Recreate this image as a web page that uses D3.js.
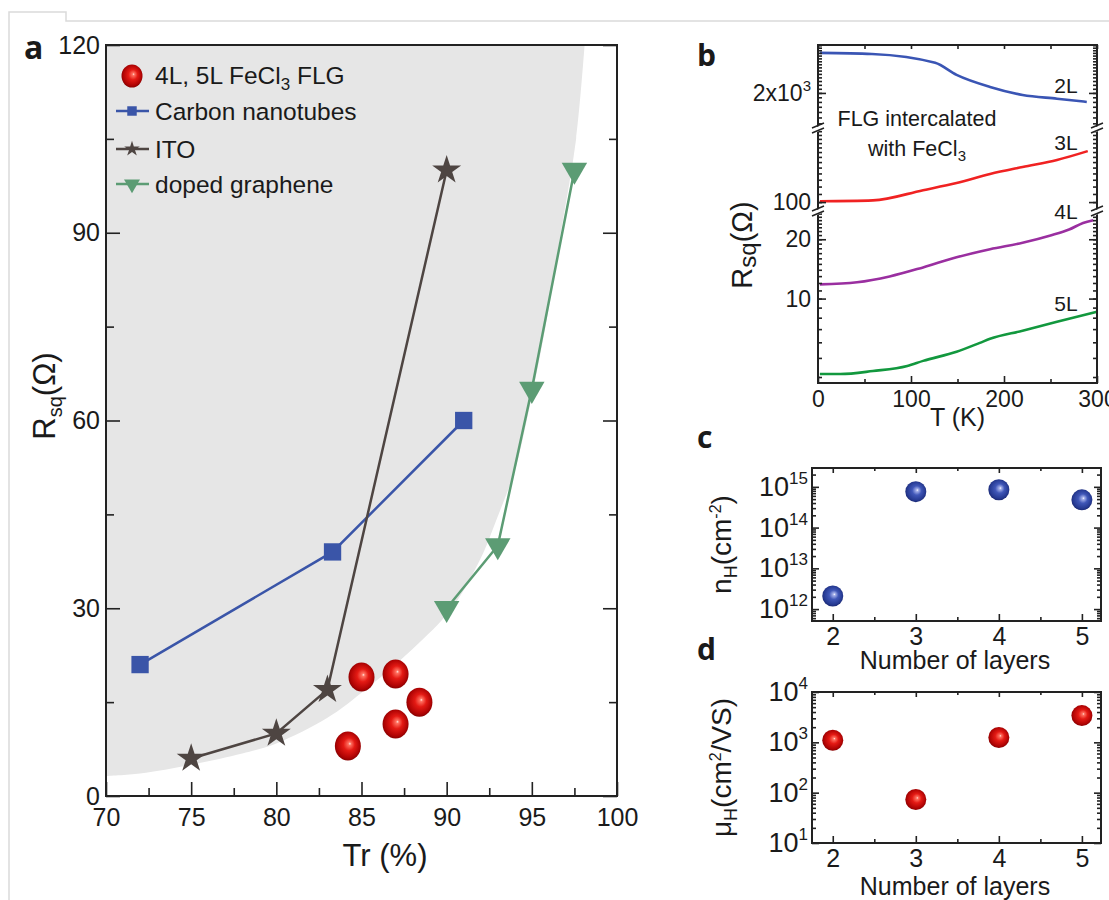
<!DOCTYPE html>
<html>
<head>
<meta charset="utf-8">
<script src="https://cdn.jsdelivr.net/npm/d3@7"></script>
<style>
body { margin: 0; background: #fff; }
</style>
</head>
<body>
<div id="figure"></div>
<script>
// ---------- panel a : sheet resistance vs transmittance ----------
var a_cnt_tr = [72, 83.3, 91];
var a_cnt_rsq = [21, 39, 60];
var a_ito_tr = [75, 80, 83, 90];
var a_ito_rsq = [6, 10, 17, 100];
var a_gr_tr = [90, 93, 95, 97.5];
var a_gr_rsq = [30, 40, 65, 100];
var a_flg_tr = [84.2, 85, 87, 87, 88.4];
var a_flg_rsq = [8, 19, 19.5, 11.5, 15];
// edge of the grey region
var a_shade_tr = [70, 72, 75, 78, 80, 83, 85, 88, 90.3, 92, 92.9, 94, 94.7, 95.8, 96.7, 97.6, 98.1];
var a_shade_rsq = [3.2, 3.6, 5, 6.8, 8.4, 12.5, 16.5, 23.5, 30, 38, 44, 52, 60, 75, 90, 105, 120];
var a_x_ticks = [70, 75, 80, 85, 90, 95, 100];
var a_x_minor = [72.5, 77.5, 82.5, 87.5, 92.5, 97.5];
var a_y_ticks = [0, 30, 60, 90, 120];
var a_y_minor = [15, 45, 75, 105];

// ---------- panel b : Rsq vs T ----------
var b_T_2L = [2, 58, 126, 149, 185, 220, 257, 289];
var b_R_2L = [3200, 3160, 2846, 2472, 2146, 1953, 1869, 1800];
var b_T_3L = [2, 59, 113, 149, 185, 220, 257, 290];
var b_R_3L = [101, 102, 115, 125, 139, 151, 164, 182];
var b_T_4L = [2, 42, 77, 113, 149, 185, 220, 250, 270, 285, 296];
var b_R_4L = [11.8, 12.1, 12.95, 14.4, 16.2, 17.8, 19.2, 20.9, 22.4, 24.2, 25.0];
var b_T_5L = [2, 24, 59, 96, 113, 149, 174, 185, 220, 257, 300];
var b_R_5L = [4.14, 4.14, 4.29, 4.55, 4.83, 5.37, 5.96, 6.25, 6.87, 7.63, 8.58];
var b_x_ticks = [0, 100, 200, 300];
var b_x_minor = [50, 150, 250];
// broken y axis: one log segment per group of curves
var b_seg_domains = [[1310, 3510], [89, 236], [3.73, 27.5]];
var b_seg_major = [[2000], [100], [10, 20]];
var b_seg_minor_step = [100, 10, 1];

// ---------- panels c, d : Hall data vs number of layers ----------
var cd_layers = [2, 3, 4, 5];
var c_nH = [2.1e12, 7.6e14, 8.5e14, 4.8e14];
var d_mu = [1100, 73, 1250, 3400];
var c_decades = [12, 13, 14, 15];
var d_decades = [1, 2, 3, 4];

var SANS = "'Liberation Sans', Arial, sans-serif";
var INK = "#1a1a1a";

var svg = d3.select("#figure").append("svg")
    .attr("width", 1109)
    .attr("height", 900)
    .attr("font-family", SANS)
    .attr("fill", INK);

var defs = svg.append("defs");

function add_ball(id, stops) {
    var g = defs.append("radialGradient").attr("id", id)
        .attr("cx", "50%").attr("cy", "48%").attr("r", "55%")
        .attr("fx", "58%").attr("fy", "42%");
    stops.forEach(function(s) {
        g.append("stop").attr("offset", s[0]).attr("stop-color", s[1]);
    });
}
add_ball("ball_red", [["0%", "#ffe4dc"], ["10%", "#ff7060"], ["40%", "#e41a14"], ["80%", "#b00404"], ["100%", "#7c0000"]]);
add_ball("ball_blue", [["0%", "#ffffff"], ["10%", "#a7b2ea"], ["40%", "#4057b8"], ["80%", "#263a92"], ["100%", "#18246a"]]);

function zip(a, b) {
    return a.map(function(v, i) { return [v, b[i]]; });
}

function ticks(g, axis, tx, ty, size) {
    var sel = g.append("g")
        .attr("transform", "translate(" + tx + "," + ty + ")")
        .call(axis);
    sel.select(".domain").remove();
    sel.attr("font-size", size || 10).attr("font-family", null).attr("fill", null);
    sel.selectAll(".tick line").attr("stroke", "#222").attr("stroke-width", 1.6);
    sel.selectAll(".tick text").attr("fill", INK);
    return sel;
}

// page border left by the screenshot
svg.append("path")
    .attr("d", "M9,900V12H66V21H1109")
    .attr("fill", "none")
    .attr("stroke", "#dadada")
    .attr("stroke-width", 1.5);

// ================= panel a =================
var ax = d3.scaleLinear().domain([70, 100]).range([106, 617]);
var ay = d3.scaleLinear().domain([0, 120]).range([796, 45]);
var pa = svg.append("g");

defs.append("clipPath").attr("id", "clip_a").append("rect")
    .attr("x", ax(70)).attr("y", ay(120))
    .attr("width", ax(100) - ax(70)).attr("height", ay(0) - ay(120));

var shade = d3.line().curve(d3.curveCatmullRom)(zip(a_shade_tr, a_shade_rsq).map(function(d) {
    return [ax(d[0]), ay(d[1])];
}));
pa.append("path")
    .attr("d", "M" + ax(70) + "," + ay(120) + "L" + shade.slice(1) + "Z")
    .attr("fill", "#e6e6e6")
    .attr("clip-path", "url(#clip_a)");

var a_line = d3.line()
    .x(function(d) { return ax(d[0]); })
    .y(function(d) { return ay(d[1]); });

var a_series = [
    {tr: a_cnt_tr, rsq: a_cnt_rsq, color: "#3a55a8", symbol: d3.symbolSquare, size: 300, rot: 0},
    {tr: a_ito_tr, rsq: a_ito_rsq, color: "#4e4542", symbol: d3.symbolStar, size: 260, rot: 0},
    {tr: a_gr_tr, rsq: a_gr_rsq, color: "#5c9c74", symbol: d3.symbolTriangle, size: 280, rot: 180}
];

a_series.forEach(function(s) {
    pa.append("path")
        .attr("d", a_line(zip(s.tr, s.rsq)))
        .attr("fill", "none")
        .attr("stroke", s.color)
        .attr("stroke-width", 2.5);
    pa.selectAll(null)
        .data(zip(s.tr, s.rsq))
        .enter()
        .append("path")
        .attr("transform", function(d) {
            return "translate(" + ax(d[0]) + "," + ay(d[1]) + ") rotate(" + s.rot + ")";
        })
        .attr("d", d3.symbol(s.symbol, s.size))
        .attr("fill", s.color);
});

pa.selectAll(null)
    .data(zip(a_flg_tr, a_flg_rsq))
    .enter()
    .append("ellipse")
    .attr("cx", function(d) { return ax(d[0]); })
    .attr("cy", function(d) { return ay(d[1]); })
    .attr("rx", 13)
    .attr("ry", 14.5)
    .attr("fill", "url(#ball_red)");

// axes of a, ticks point inwards
ticks(pa, d3.axisLeft(ay).tickValues(a_y_ticks).tickSize(-14).tickPadding(6), ax(70), 0, 25);
ticks(pa, d3.axisLeft(ay).tickValues(a_y_minor).tickSize(-8).tickFormat(""), ax(70), 0);
ticks(pa, d3.axisRight(ay).tickValues(a_y_ticks).tickSize(-14).tickFormat(""), ax(100), 0);
ticks(pa, d3.axisRight(ay).tickValues(a_y_minor).tickSize(-8).tickFormat(""), ax(100), 0);
ticks(pa, d3.axisBottom(ax).tickValues(a_x_ticks).tickSize(-14).tickPadding(12), 0, ay(0), 25);
ticks(pa, d3.axisBottom(ax).tickValues(a_x_minor).tickSize(-8).tickFormat(""), 0, ay(0));

pa.append("rect")
    .attr("x", ax(70)).attr("y", ay(120))
    .attr("width", ax(100) - ax(70)).attr("height", ay(0) - ay(120))
    .attr("fill", "none").attr("stroke", "#222").attr("stroke-width", 2);

pa.append("text")
    .attr("x", 385).attr("y", 866)
    .attr("text-anchor", "middle")
    .attr("font-size", 31)
    .text("Tr (%)");

var a_ylab = pa.append("text")
    .attr("transform", "translate(55,396) rotate(-90)")
    .attr("text-anchor", "middle")
    .attr("font-size", 31);
a_ylab.append("tspan").text("R");
a_ylab.append("tspan").attr("font-size", 20).attr("dy", 7).text("sq");
a_ylab.append("tspan").attr("dy", -7).text("(Ω)");

// legend of a
var leg = pa.append("g").attr("font-size", 24.5);
leg.append("ellipse").attr("cx", 132).attr("cy", 76).attr("rx", 10.5).attr("ry", 11.5).attr("fill", "url(#ball_red)");
var leg_t = leg.append("text").attr("x", 155).attr("y", 84);
leg_t.append("tspan").text("4L, 5L FeCl");
leg_t.append("tspan").attr("font-size", 17).attr("dy", 6).text("3");
leg_t.append("tspan").attr("dy", -6).text(" FLG");

var leg_rows = [
    {s: a_series[0], y: 111, name: "Carbon nanotubes", size: 90},
    {s: a_series[1], y: 149, name: "ITO", size: 75},
    {s: a_series[2], y: 184, name: "doped graphene", size: 110}
];
leg_rows.forEach(function(r) {
    leg.append("line")
        .attr("x1", 116).attr("x2", 149).attr("y1", r.y).attr("y2", r.y)
        .attr("stroke", r.s.color).attr("stroke-width", 2.5);
    leg.append("path")
        .attr("transform", "translate(132," + r.y + ") rotate(" + r.s.rot + ")")
        .attr("d", d3.symbol(r.s.symbol, r.size)())
        .attr("fill", r.s.color);
    leg.append("text").attr("x", 155).attr("y", r.y + 9).text(r.name);
});

svg.append("text")
    .attr("x", 24).attr("y", 59)
    .attr("font-family", "'Open Sans', sans-serif")
    .attr("font-weight", "bold")
    .attr("font-size", 32)
    .text("a");

// ================= panel b =================
var bx = d3.scaleLinear().domain([0, 300]).range([818, 1097]);
var b_top = 45, b_bottom = 383, b_breaks = [129, 212];
var b_seg_ranges = [[b_breaks[0], b_top], [b_breaks[1], b_breaks[0]], [b_bottom, b_breaks[1]]];
var b_seg = b_seg_domains.map(function(d, i) {
    return d3.scaleLog().domain(d).range(b_seg_ranges[i]);
});
var pb = svg.append("g");

var b_curves = [
    {T: b_T_2L, R: b_R_2L, seg: 0, color: "#3a55b4", name: "2L", lx: 1066, ly: 93},
    {T: b_T_3L, R: b_R_3L, seg: 1, color: "#f02222", name: "3L", lx: 1066, ly: 150},
    {T: b_T_4L, R: b_R_4L, seg: 2, color: "#9a2fa0", name: "4L", lx: 1066, ly: 219},
    {T: b_T_5L, R: b_R_5L, seg: 2, color: "#12983e", name: "5L", lx: 1066, ly: 311}
];

b_curves.forEach(function(c) {
    var y = b_seg[c.seg];
    pb.append("path")
        .attr("d", d3.line().curve(d3.curveMonotoneX)
            .x(function(d) { return bx(d[0]); })
            .y(function(d) { return y(d[1]); })(zip(c.T, c.R)))
        .attr("fill", "none")
        .attr("stroke", c.color)
        .attr("stroke-width", 2.6);
    pb.append("text")
        .attr("x", c.lx).attr("y", c.ly)
        .attr("text-anchor", "middle")
        .attr("font-size", 21)
        .text(c.name);
});

ticks(pb, d3.axisBottom(bx).tickValues(b_x_ticks).tickSize(-7).tickPadding(8), 0, b_bottom, 23);
ticks(pb, d3.axisBottom(bx).tickValues(b_x_minor).tickSize(-4).tickFormat(""), 0, b_bottom);
ticks(pb, d3.axisTop(bx).tickValues(b_x_ticks.concat(b_x_minor)).tickSize(-4).tickFormat(""), 0, b_top);

b_seg.forEach(function(y, i) {
    var dom = b_seg_domains[i];
    var step = b_seg_minor_step[i];
    var minor = d3.range(Math.ceil(dom[0] / step) * step, dom[1], step);
    ticks(pb, d3.axisLeft(y).tickValues(b_seg_major[i]).tickSize(-8).tickFormat(""), bx(0), 0);
    ticks(pb, d3.axisLeft(y).tickValues(minor).tickSize(-4).tickFormat(""), bx(0), 0);
    ticks(pb, d3.axisRight(y).tickValues(b_seg_major[i]).tickSize(-8).tickFormat(""), bx(300), 0);
    ticks(pb, d3.axisRight(y).tickValues(minor).tickSize(-4).tickFormat(""), bx(300), 0);
    b_seg_major[i].forEach(function(v) {
        var t = pb.append("text")
            .attr("x", bx(0) - 7).attr("y", y(v) + 8)
            .attr("text-anchor", "end")
            .attr("font-size", 23);
        if (v >= 1000) {
            t.append("tspan").text("2x10");
            t.append("tspan").attr("font-size", 15).attr("dy", -10).text("3");
        } else {
            t.text(v);
        }
    });
});

pb.append("rect")
    .attr("x", bx(0)).attr("y", b_top)
    .attr("width", bx(300) - bx(0)).attr("height", b_bottom - b_top)
    .attr("fill", "none").attr("stroke", "#222").attr("stroke-width", 2);

// axis break marks
b_breaks.forEach(function(yb) {
    [bx(0), bx(300)].forEach(function(xb) {
        pb.append("path")
            .attr("d", "M" + (xb - 6) + "," + (yb + 0) + "l12,-5v5l-12,5z")
            .attr("fill", "#fff");
        pb.append("path")
            .attr("d", "M" + (xb - 6) + "," + (yb - 1) + "l12,-5M" + (xb - 6) + "," + (yb + 4) + "l12,-5")
            .attr("stroke", "#222").attr("stroke-width", 1.5);
    });
});

pb.append("text").attr("x", 917).attr("y", 126).attr("text-anchor", "middle")
    .attr("font-size", 21.5).text("FLG intercalated");
var b_note = pb.append("text").attr("x", 917).attr("y", 156).attr("text-anchor", "middle")
    .attr("font-size", 21.5);
b_note.append("tspan").text("with FeCl");
b_note.append("tspan").attr("font-size", 15).attr("dy", 5).text("3");

pb.append("text")
    .attr("x", bx(150)).attr("y", 426)
    .attr("text-anchor", "middle")
    .attr("font-size", 25)
    .text("T (K)");

var b_ylab = pb.append("text")
    .attr("transform", "translate(752,245) rotate(-90)")
    .attr("text-anchor", "middle")
    .attr("font-size", 29);
b_ylab.append("tspan").text("R");
b_ylab.append("tspan").attr("font-size", 24).attr("dy", 4).text("sq");
b_ylab.append("tspan").attr("dy", -4).text("(Ω)");

svg.append("text")
    .attr("x", 697).attr("y", 66)
    .attr("font-family", "'Open Sans', sans-serif")
    .attr("font-weight", "bold")
    .attr("font-size", 30)
    .text("b");

// ================= panels c and d =================
var cx = d3.scaleLinear().domain([1.75, 5.23]).range([812, 1101]);

function hall_panel(y, values, decades, ball, top, bottom, lab_y, ylab_parts) {
    var g = svg.append("g");
    var lo = y.domain()[0], hi = y.domain()[1];
    var minor = [];
    d3.range(Math.floor(Math.log10(lo)), Math.ceil(Math.log10(hi)) + 1).forEach(function(e) {
        for (var k = 2; k < 10; k++) {
            var v = k * Math.pow(10, e);
            if (v > lo && v < hi) minor.push(v);
        }
    });
    var major = decades.map(function(e) { return Math.pow(10, e); });

    ticks(g, d3.axisLeft(y).tickValues(major).tickSize(-7).tickFormat(""), cx.range()[0], 0);
    ticks(g, d3.axisLeft(y).tickValues(minor).tickSize(-4).tickFormat(""), cx.range()[0], 0);
    ticks(g, d3.axisRight(y).tickValues(major).tickSize(-7).tickFormat(""), cx.range()[1], 0);
    ticks(g, d3.axisRight(y).tickValues(minor).tickSize(-4).tickFormat(""), cx.range()[1], 0);
    ticks(g, d3.axisBottom(cx).tickValues(cd_layers).tickSize(-7).tickPadding(6)
        .tickFormat(d3.format("d")), 0, bottom, 25);
    ticks(g, d3.axisBottom(cx).tickValues([2.5, 3.5, 4.5]).tickSize(-4).tickFormat(""), 0, bottom);
    ticks(g, d3.axisTop(cx).tickValues(cd_layers).tickSize(-5).tickFormat(""), 0, top);
    ticks(g, d3.axisTop(cx).tickValues([2.5, 3.5, 4.5]).tickSize(-3).tickFormat(""), 0, top);

    g.append("rect")
        .attr("x", cx.range()[0]).attr("y", top)
        .attr("width", cx.range()[1] - cx.range()[0]).attr("height", bottom - top)
        .attr("fill", "none").attr("stroke", "#222").attr("stroke-width", 2);

    decades.forEach(function(e) {
        var t = g.append("text")
            .attr("x", cx.range()[0] - 4).attr("y", y(Math.pow(10, e)) + 9)
            .attr("text-anchor", "end")
            .attr("font-size", 27);
        t.append("tspan").text("10");
        t.append("tspan").attr("font-size", 17).attr("dy", -12).text(e);
    });

    g.selectAll(null)
        .data(zip(cd_layers, values))
        .enter()
        .append("circle")
        .attr("cx", function(d) { return cx(d[0]); })
        .attr("cy", function(d) { return y(d[1]); })
        .attr("r", 10.5)
        .attr("fill", "url(#" + ball + ")");

    g.append("text")
        .attr("x", 955).attr("y", lab_y)
        .attr("text-anchor", "middle")
        .attr("font-size", 25)
        .text("Number of layers");

    var yl = g.append("text")
        .attr("transform", "translate(731," + ((top + bottom) / 2) + ") rotate(-90)")
        .attr("text-anchor", "middle")
        .attr("font-size", 28);
    ylab_parts.forEach(function(p) {
        var ts = yl.append("tspan").text(p[0]);
        if (p[1]) ts.attr("font-size", p[1]).attr("dy", p[2]);
    });
    return g;
}

var c_y = d3.scaleLog().domain([5.1e11, 2.9e15]).range([621, 468]);
hall_panel(c_y, c_nH, c_decades, "ball_blue", 468, 621, 669,
    [["n"], ["H", 18, 6], ["(cm", 28, -6], ["-2", 16, -10], [")", 28, 10]]);

var d_y = d3.scaleLog().domain([10, 1e4]).range([843, 692]);
hall_panel(d_y, d_mu, d_decades, "ball_red", 692, 843, 895,
    [["μ"], ["H", 18, 6], ["(cm", 28, -6], ["2", 16, -10], ["/VS)", 28, 10]]);

svg.append("text")
    .attr("x", 697).attr("y", 448)
    .attr("font-family", "'Open Sans', sans-serif")
    .attr("font-weight", "bold")
    .attr("font-size", 30)
    .text("c");

svg.append("text")
    .attr("x", 697).attr("y", 660)
    .attr("font-family", "'Open Sans', sans-serif")
    .attr("font-weight", "bold")
    .attr("font-size", 30)
    .text("d");
</script>
</body>
</html>
